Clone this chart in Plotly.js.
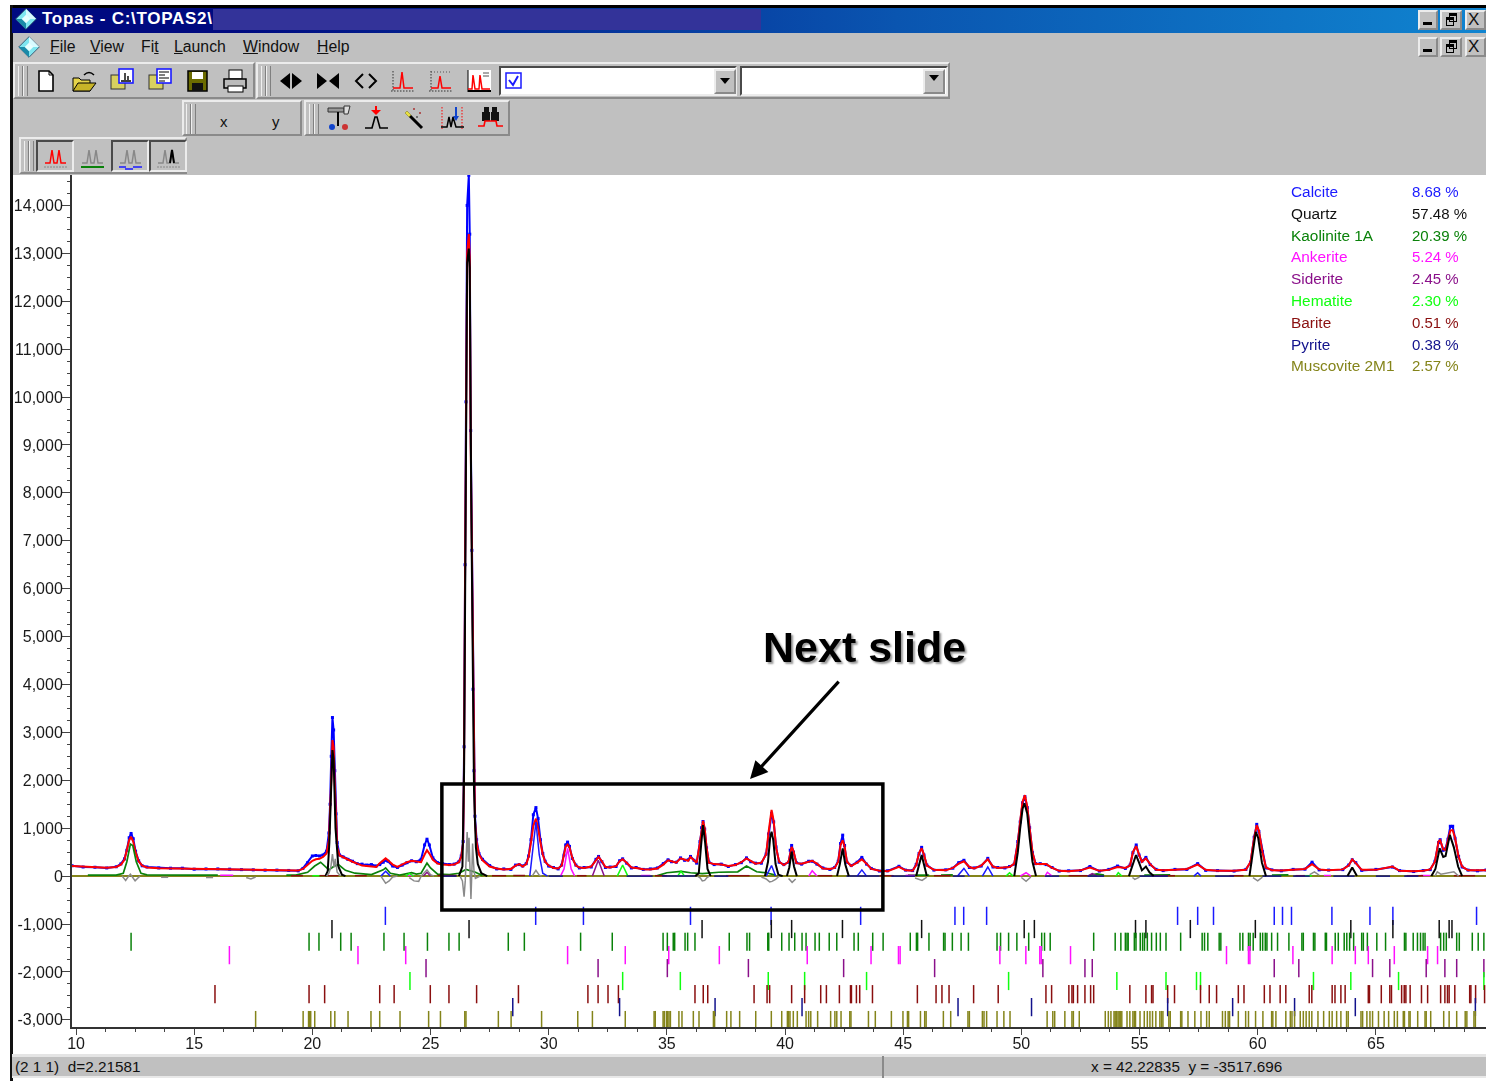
<!DOCTYPE html>
<html><head><meta charset="utf-8"><title>Topas</title>
<script src="https://cdn.plot.ly/plotly-3.0.1.min.js"></script>
<style>
html,body{margin:0;padding:0;background:#fff;width:1486px;height:1081px;overflow:hidden;font-family:"Liberation Sans",Arial,sans-serif}
#wrap{position:absolute;left:0;top:0;width:1486px;height:1081px;overflow:hidden;filter:blur(0.4px)}
#chrome{position:absolute;left:0;top:0;width:1486px;height:1081px}
#chrome div,#chrome span,#chrome svg{position:absolute}
#plot{position:absolute;left:0;top:0;width:1486px;height:1081px}
.t{white-space:pre;color:#111;font-size:16px;line-height:18px}
.t u{text-decoration:underline}
</style></head><body>
<div id="wrap"><div id="chrome"></div><div id="plot"></div></div>
<script>
// ---------- profile (2-theta, counts) ----------
const twoTheta = [9.83,10.3,10.8,11.3,11.7,11.9,12.05,12.15,12.25,12.33,12.42,12.52,12.65,12.8,13,13.5,14,14.5,15,15.5,16,16.5,17,17.5,18,18.5,19,19.4,19.6,19.8,20,20.15,20.3,20.45,20.6,20.7,20.75,20.8,20.85,20.9,20.95,21,21.05,21.15,21.3,21.5,21.7,21.9,22.1,22.3,22.5,22.7,22.85,23,23.1,23.2,23.4,23.6,23.8,24,24.2,24.4,24.6,24.75,24.85,24.95,25.1,25.3,25.5,25.8,26,26.2,26.3,26.38,26.42,26.46,26.5,26.55,26.62,26.66,26.7,26.75,26.8,26.84,26.88,26.95,27.05,27.2,27.5,27.8,28.1,28.4,28.6,28.75,28.9,29.05,29.15,29.25,29.35,29.46,29.55,29.65,29.75,29.85,30,30.2,30.4,30.55,30.65,30.72,30.8,30.88,31,31.15,31.3,31.5,31.8,32,32.11,32.25,32.4,32.6,32.85,33,33.13,33.3,33.5,33.7,34,34.3,34.6,34.85,35.05,35.2,35.4,35.58,35.75,35.9,36,36.15,36.26,36.4,36.47,36.53,36.6,36.68,36.78,37,37.3,37.6,37.9,38.15,38.37,38.55,38.75,39,39.2,39.3,39.43,39.52,39.62,39.75,39.95,40.15,40.22,40.28,40.36,40.48,40.7,41,41.15,41.35,41.6,41.9,42.1,42.25,42.35,42.44,42.52,42.62,42.8,43.05,43.25,43.45,43.65,44,44.34,44.82,45.1,45.4,45.55,45.67,45.78,45.88,46,46.3,46.8,47.1,47.35,47.57,47.8,48,48.3,48.58,48.8,49,49.3,49.5,49.7,49.85,49.95,50.05,50.15,50.25,50.35,50.47,50.6,50.8,51.05,51.3,51.6,52,52.5,52.9,53.3,53.7,54.07,54.4,54.6,54.72,54.86,54.98,55.1,55.27,55.45,55.7,56,56.5,57,57.46,57.8,58.3,59,59.5,59.7,59.85,59.96,60.05,60.2,60.35,60.6,61,61.5,62,62.3,62.6,63,63.6,63.85,64,64.15,64.4,65,65.7,66,66.6,67,67.3,67.5,67.65,67.72,67.85,67.95,68.05,68.15,68.25,68.35,68.5,68.65,68.9,69.3,69.66];
const calculated = [210,195,180,175,190,240,340,520,750,820,720,500,310,220,180,165,160,155,145,140,135,130,125,120,120,115,112,115,150,240,320,350,360,400,470,750,1300,2000,2840,2700,1900,1100,600,430,390,340,300,260,220,210,200,190,270,340,370,330,240,190,240,290,320,300,290,450,540,470,340,260,240,230,240,290,400,700,2420,6180,9520,13000,13400,12900,9000,6600,3700,2100,1150,700,450,330,200,160,140,150,220,250,200,250,400,700,1050,1200,1000,700,450,300,220,170,160,220,420,620,660,600,380,220,180,170,200,330,400,310,190,180,210,310,350,280,180,170,145,140,160,240,330,310,280,370,340,320,400,340,280,700,1000,1155,1000,600,280,250,240,210,230,290,370,310,260,280,450,900,1380,1150,600,300,230,300,520,610,520,270,260,300,320,260,160,150,170,300,650,750,620,300,210,280,350,260,150,110,100,195,120,110,230,480,580,450,220,130,120,170,260,310,190,160,220,350,200,170,180,190,260,700,1150,1550,1690,1450,1000,500,250,250,250,170,110,100,120,180,110,130,190,170,220,500,625,450,300,370,250,130,120,130,150,240,130,110,110,130,300,800,1065,950,500,180,120,115,130,150,250,140,120,140,220,350,270,130,130,200,110,100,110,140,300,720,750,560,550,780,950,960,800,400,200,120,115,120];
const observed = [215,190,185,170,195,255,360,540,800,890,780,520,320,215,190,170,165,165,145,150,150,145,135,130,125,125,118,110,160,280,420,430,420,440,520,900,1500,2500,3310,3050,2200,1300,700,440,400,350,310,260,250,230,240,210,240,290,330,310,210,180,230,280,320,300,350,650,770,650,380,280,260,240,250,300,420,720,2700,6500,9900,14000,14630,13400,9300,6800,3900,2200,1250,760,470,350,220,150,150,140,230,240,210,260,420,760,1280,1430,1200,760,470,310,210,180,150,230,440,650,710,620,370,230,170,180,190,350,410,300,180,190,200,320,360,270,170,180,140,150,170,260,340,300,290,380,330,340,410,330,270,720,1010,1140,980,590,290,240,250,200,240,280,380,300,270,270,460,880,1310,1130,610,290,240,290,540,640,500,280,250,310,310,250,170,140,180,310,680,855,640,290,220,290,390,250,160,105,110,205,125,115,240,470,600,440,230,125,130,165,280,330,180,170,210,370,190,180,170,200,250,720,1130,1530,1660,1430,1010,490,260,260,240,180,105,110,115,200,105,140,210,160,230,490,650,440,310,390,240,140,115,140,140,260,120,115,105,140,290,810,1080,930,510,170,130,110,140,145,290,130,125,135,230,340,280,120,140,190,115,95,115,135,310,700,760,540,570,770,1040,1040,790,410,190,125,110,125];

// ---------- phase curves (null = no visible contribution, pen lifted) ----------
const quartzX = [20.55,20.65,20.72,20.8,20.85,20.9,20.98,21.1,21.25,21.4,null,
  26.2,26.35,26.42,26.46,26.5,26.55,26.62,26.66,26.72,26.78,26.84,26.92,27,27.15,27.4,null,
  36.2,36.35,36.45,36.53,36.62,36.72,36.85,null,
  39.15,39.28,39.37,39.43,39.5,39.6,39.72,39.9,null,
  40.08,40.18,40.28,40.38,40.5,null,
  42.2,42.32,42.44,42.55,42.7,null,
  45.55,45.68,45.78,45.9,46,null,
  49.7,49.85,49.95,50.05,50.13,50.25,50.35,50.47,50.62,null,
  54.55,54.72,54.85,54.98,55.1,55.27,55.42,55.6,null,
  59.65,59.8,59.92,60.02,60.18,60.35,null,
  63.8,64,64.2,null,
  67.35,67.52,67.7,67.85,67.95,68.13,68.3,68.48,68.65];
const quartzY = [0,100,700,1800,2630,2450,1000,200,30,0,null,
  0,200,2200,5800,9300,12800,13100,12700,8000,4500,1800,600,250,60,0,null,
  0,60,650,1065,700,150,0,null,
  0,300,800,925,760,250,30,0,null,
  0,180,510,200,0,null,
  0,250,580,240,0,null,
  0,250,440,200,0,null,
  0,500,1000,1400,1520,1300,800,300,0,null,
  0,250,440,280,120,200,80,0,null,
  0,550,925,800,280,0,null,
  0,180,0,null,
  0,150,580,400,420,860,600,200,0];
const kaoliniteX = [10.5,11.7,12,12.15,12.3,12.4,12.55,12.75,13,13.5,14,15,16,null,
  18.9,19.3,19.8,20.1,20.35,20.5,20.7,20.9,21.1,21.4,21.8,22.5,23,23.1,23.3,23.7,24.2,24.4,24.6,24.85,25,25.3,25.8,26.2,26.5,26.9,27.2,null,
  34.6,35,35.6,36,36.5,37.2,38,38.37,38.8,39.2,39.6,null,
  45.2,45.8,46.1,null,46.6,47.1,null,52.9,53.2,53.5,null,55.2,56.3,null,60.6,61.3];
const kaoliniteY = [20,20,60,300,670,640,300,60,25,20,20,20,20,null,
  20,20,80,210,290,220,130,200,240,120,60,30,130,170,60,20,70,40,60,270,170,40,30,60,140,80,10,null,
  10,70,100,70,50,80,90,210,90,70,20,null,
  20,25,20,null,20,25,null,20,45,20,null,20,25,null,20,25];
const calciteX = [22.9,23.1,23.3,null,29.2,29.3,29.46,29.6,29.75,29.95,null,39.2,39.43,39.6,null,43.05,43.25,43.45,null,47.3,47.57,47.8,null,48.35,48.58,48.8,null,57.3,57.46,57.6];
const calciteY = [0,100,0,null,0,400,1130,450,60,0,null,0,220,0,null,0,130,0,null,0,160,0,null,0,190,0,null,0,70,0];
const ankeriteX = [16.1,16.65,null,24,24.3,null,30.5,30.65,30.8,30.95,31.1,null,33.9,34.3,null,41,41.15,41.35,null,45.1,45.5,null,49.95,50.2,50.4,null,51,51.1,51.3,null,62.8,63.1,null,66.9,67.3];
const ankeriteY = [18,18,null,15,15,null,0,150,580,150,0,null,12,12,null,0,110,0,null,15,15,null,0,70,0,null,0,80,0,null,12,12,null,12,12];
const sideriteX = [24.7,24.85,25,null,31.85,32.1,32.35,null,52.8,53,53.2];
const sideriteY = [0,80,0,null,0,330,0,null,0,50,0];
const hematiteX = [20.0,20.5,null,23.95,24.1,24.3,null,32.9,33.13,33.35,null,35.45,35.6,35.75,null,49.35,49.5,49.65,null,54,54.1,54.25,null,61.9,62.3];
const hematiteY = [8,8,null,0,50,0,null,0,230,0,null,0,100,0,null,0,70,0,null,0,70,0,null,8,8];
const bariteX = [19.1,19.6,null,20.3,21.1,null,21.8,22.3,null,25.3,26.1,null,27.6,28.2,null,28.5,29,null,31.2,31.6,null,34.5,35,null,37.5,38.5,null,41.4,42,null,44,44.6,null,46.3,47,null,52,52.8,null,55.5,56.5,null,58.8,59.4,null,61.6,62,null,66.3,67,null,68.3,69.2];
const bariteY = [8,8,null,8,8,null,8,8,null,12,12,null,8,8,null,12,12,null,8,8,null,8,8,null,8,8,null,8,8,null,8,8,null,8,8,null,8,8,null,8,8,null,8,8,null,8,8,null,8,8,null,8,8];
const pyriteX = [25.5,26.1,null,30,30.6,null,33.3,34.4,null,34.8,36.2,null,37,37.6,null,42.6,44,null,44.5,45.5,null,47.1,47.6,null,51,51.6,null,52.8,53.5,null,55,56.2,null,58.2,59,null,60.2,61,null,61.5,62.2,null,63.2,64.1,null,65,65.6,null,66.2,66.8];
const pyriteY = [0,0,null,0,0,null,0,0,null,0,0,null,0,0,null,0,0,null,0,0,null,0,0,null,0,0,null,0,0,null,0,0,null,0,0,null,0,0,null,0,0,null,0,0,null,0,0,null,0,0];
const muscoviteX = [9.83,69.66];
const muscoviteY = [0,0];
const differenceX = [11.95,12.1,12.2,12.3,12.4,12.5,12.6,12.7,null,
  13.6,13.9,null,15.5,15.8,null,17.2,17.4,17.6,null,
  20.6,20.7,20.78,20.85,20.92,20.97,21.05,21.2,null,
  22.9,23,23.1,23.25,23.4,23.6,null,
  24.1,24.3,24.5,24.6,24.85,25,25.15,null,
  26.25,26.35,26.42,26.47,26.55,26.6,26.63,26.67,26.71,26.75,26.78,26.84,26.9,27.1,null,
  29.3,29.46,29.6,29.7,null,
  36.3,36.42,36.5,36.6,36.7,36.8,null,
  39,39.2,39.35,39.45,39.6,39.75,null,
  40.15,40.3,40.45,null,
  45.5,45.8,46,null,
  50,50.2,50.4,null,
  54.7,54.8,55,null,
  59.8,60,60.2,null,
  62.2,62.4,62.6,null,
  67.5,67.6,67.75,68.1,68.3,68.5];
const differenceY = [0,-90,-20,40,-30,-100,-50,0,null,
  -25,-25,null,-30,-30,null,-30,-60,-20,null,
  0,60,180,460,180,360,80,0,null,
  0,-80,-150,-100,-20,0,null,
  -30,-100,-110,0,130,30,0,null,
  0,-100,-430,-100,920,300,800,-100,-480,100,680,100,-50,0,null,
  0,120,20,0,null,
  0,-40,-100,-90,-30,0,null,
  -20,-60,-120,-110,-70,0,null,
  -50,-130,-60,null,
  -40,-90,-20,null,
  -30,-110,-20,null,
  -30,-70,-20,null,
  -30,-100,-20,null,
  30,90,20,null,
  0,90,40,70,90,0];

// ---------- reflection tick rows (2-theta) ----------
const calciteTicks = [23.09,29.45,31.47,36,39.41,43.2,47.19,47.56,48.53,56.61,57.46,58.13,60.7,61.05,61.43,63.14,64.75,65.72,69.26];
const quartzTicks = [20.83,26.63,36.49,39.42,40.28,42.43,45.78,50.12,50.55,54.83,55.27,57.15,59.9,63.94,65.72,67.68,68.1,68.22];
const kaoliniteTicks = [12.33,19.86,20.28,21.2,21.64,23.03,23.88,24.87,25.78,26.21,28.29,28.97,31.35,32.69,34.84,35.02,35.27,35.33,35.77,35.88,36.19,37.64,38.39,38.5,39.27,39.31,39.86,40.17,40.41,40.72,40.89,41.27,41.45,41.87,42.19,42.92,43.1,43.71,44.15,45.3,45.56,45.61,46.09,46.71,46.77,47.08,47.45,47.76,48.97,49.12,49.46,49.81,50.31,50.86,50.98,51.22,53.06,53.97,54.21,54.4,54.47,54.52,54.78,54.85,55.03,55.13,55.21,55.33,55.51,55.71,55.88,56.12,56.74,57.65,57.75,57.89,58.37,58.44,59.25,59.37,59.61,59.68,59.81,60.11,60.21,60.32,60.39,60.59,60.84,61.32,61.87,61.93,62.36,62.42,62.86,62.91,63.28,63.41,63.66,63.77,63.89,64.06,64.4,64.47,64.64,65.04,65.41,66.21,66.27,66.58,66.76,66.89,67,67.08,67.74,67.87,67.98,68.42,68.53,69.08,69.33,69.57];
const ankeriteTicks = [16.49,21.93,23.95,30.8,33.24,35.08,37.22,40.94,43.64,44.8,44.87,49.09,50.19,50.78,50.84,52.08,58.68,59.61,59.67,61.49,63.15,64.13,64.68,65.78,67.19,67.61];
const sideriteTicks = [24.81,32.09,35.02,38.45,42.48,46.33,50.91,52.69,53,60.7,61.74,64.86,65.59,67.13,67.92,68.42,69.57];
const hematiteTicks = [24.13,33.13,35.57,39.29,40.83,43.45,49.46,54.04,56.12,57.41,57.58,62.36,63.94,65.96,69.57];
const bariteTicks = [15.88,19.86,20.52,22.85,23.46,24.99,25.78,26.95,28.72,31.66,32.09,32.51,32.95,36.19,36.54,36.73,38.69,39.24,39.35,40.28,40.83,41.51,41.75,42.3,42.77,42.81,43.02,43.16,43.7,45.6,46.39,46.64,46.94,47.98,49.02,51.04,51.28,52.01,52.14,52.2,52.38,52.69,52.93,53.06,54.59,55.27,55.51,55.57,56.19,56.48,57.58,57.95,58.26,59.18,59.42,60.28,60.52,60.95,61.19,62.18,62.29,63.15,63.27,63.52,63.7,64.68,64.73,65.23,65.59,65.66,66.09,66.2,66.27,66.45,66.93,67.19,67.74,67.92,68.03,68.1,68.34,68.97,69.02,69.22,69.6];
const pyriteTicks = [28.48,33,37.04,40.72,47.32,50.43,56.19,58.94,61.56,64.13,69.21];
const muscoviteTicks = [17.6,19.61,19.84,19.89,19.93,20.1,20.78,20.95,21.51,22.48,22.85,23.71,24.92,25.42,26.45,26.5,27.87,28.41,29.7,31.23,31.85,33.24,34.46,34.51,34.84,34.89,34.98,35.03,35.09,35.15,35.51,35.64,36.12,36.36,36.97,37.02,37.53,37.71,38.08,38.76,39.42,39.86,40.1,40.15,40.21,40.35,40.52,40.89,41,41.09,41.38,41.93,42.11,42.19,42.37,42.74,42.79,43.53,43.82,44.5,44.99,45.18,45.23,45.73,45.91,45.97,46.7,47.01,47.74,47.8,48.35,48.42,48.53,48.97,49.26,49.52,51.09,51.33,51.41,51.84,52.14,52.2,52.45,53.55,53.68,53.79,53.92,53.97,54.03,54.09,54.14,54.2,54.25,54.47,54.59,54.72,54.78,54.83,55.02,55.2,55.33,55.44,55.55,55.69,55.86,55.93,55.99,56.24,56.3,56.74,56.79,57.05,57.34,57.6,57.84,57.95,58.51,58.63,58.75,58.81,59.18,59.49,59.61,59.91,60.22,60.59,60.64,60.77,61.19,61.38,61.45,61.56,61.8,61.93,62.05,62.18,62.29,62.55,62.79,63.03,63.15,63.34,63.52,63.76,63.83,64.37,64.44,64.62,64.75,64.86,65.11,65.35,65.54,65.78,65.91,66.16,66.21,66.4,66.45,66.77,67.08,67.13,67.32,67.87,68.1,68.42,68.78,68.85,69.15,69.21];

// ---------- legend ----------
const phaseNames = ["Calcite","Quartz","Kaolinite 1A","Ankerite","Siderite","Hematite","Barite","Pyrite","Muscovite 2M1"];
const phasePercents = ["8.68 %","57.48 %","20.39 %","5.24 %","2.45 %","2.30 %","0.51 %","0.38 %","2.57 %"];
const phaseColors = ["#1a1aff","#111111","#0a820a","#ff10ff","#8a108a","#10ff10","#8a0f0f","#12128c","#84841a"];
const tickRowLevels = [-830,-1105,-1370,-1650,-1920,-2190,-2465,-2735,-3005];
const tickRows = [calciteTicks,quartzTicks,kaoliniteTicks,ankeriteTicks,sideriteTicks,hematiteTicks,bariteTicks,pyriteTicks,muscoviteTicks];
const phaseCurves = [[calciteX,calciteY],[quartzX,quartzY],[kaoliniteX,kaoliniteY],[ankeriteX,ankeriteY],[sideriteX,sideriteY],[hematiteX,hematiteY],[bariteX,bariteY],[pyriteX,pyriteY],[muscoviteX,muscoviteY]];

// y axis tick labels
const yTickVals = [-3000,-2000,-1000,0,1000,2000,3000,4000,5000,6000,7000,8000,9000,10000,11000,12000,13000,14000];
const yTickText = ["-3,000","-2,000","-1,000","0","1,000","2,000","3,000","4,000","5,000","6,000","7,000","8,000","9,000","10,000","11,000","12,000","13,000","14,000"];

// ---------- traces ----------
const line = (x,y,color,width)=>({x,y,type:'scatter',mode:'lines',line:{color,width},hoverinfo:'skip',showlegend:false,connectgaps:false});
const traces = [];
traces.push({x:twoTheta,y:observed,type:'scatter',mode:'lines+markers',line:{color:'#0000ff',width:2},marker:{symbol:'square',size:3,color:'#0000ff'},hoverinfo:'skip',showlegend:false});
traces.push(line(twoTheta,calculated,'#ff0000',2));
traces.push(line(phaseCurves[8][0],phaseCurves[8][1],phaseColors[8],2));
[2,0,3,4,5,6,7].forEach(i=>traces.push(line(phaseCurves[i][0],phaseCurves[i][1],phaseColors[i],i===2?1.7:1.5)));
traces.push(line(phaseCurves[1][0],phaseCurves[1][1],'#000000',2));
traces.push(line(differenceX,differenceY,'#8a8a8a',1.5));
tickRows.forEach((r,i)=>traces.push({x:r,y:r.map(()=>tickRowLevels[i]),type:'scatter',mode:'markers',hoverinfo:'skip',showlegend:false,
  marker:{symbol:'line-ns',size:13,color:phaseColors[i],line:{color:phaseColors[i],width:1.5}}}));

// ---------- layout ----------
const W=1486,H=1081,ML=72,MT=175,MB=54;
const annotations=[];
phaseNames.forEach((n,i)=>{
  const yy=(H-MB-(191.5+i*21.8))/(H-MT-MB);
  annotations.push({xref:'paper',yref:'paper',x:(1289-ML)/(W-ML),y:yy,text:n,showarrow:false,xanchor:'left',yanchor:'middle',font:{family:'Liberation Sans',size:15.4,color:phaseColors[i]}});
  annotations.push({xref:'paper',yref:'paper',x:(1410-ML)/(W-ML),y:yy,text:phasePercents[i],showarrow:false,xanchor:'left',yanchor:'middle',font:{family:'Liberation Sans',size:15,color:phaseColors[i]}});
});
annotations.push({xref:'x',yref:'y',x:43.38,y:4780,text:'<b>Next slide</b>',showarrow:false,xanchor:'center',yanchor:'middle',
  font:{family:'Liberation Sans',size:43,color:'#000',shadow:'2px 2px 2px #9a9a9a'}});
annotations.push({xref:'x',yref:'y',x:38.52,y:2025,ax:90,ay:-99,axref:'pixel',ayref:'pixel',text:'',showarrow:true,arrowhead:2,arrowsize:1.1,arrowwidth:3.2,arrowcolor:'#000'});

const layout={
  width:W,height:H,margin:{l:ML,r:0,t:MT,b:MB,pad:0},
  paper_bgcolor:'rgba(0,0,0,0)',plot_bgcolor:'rgba(0,0,0,0)',
  font:{family:'Liberation Sans',size:16,color:'#1a1a1a'},showlegend:false,
  xaxis:{range:[9.83,69.66],tickvals:[10,15,20,25,30,35,40,45,50,55,60,65],ticktext:['10','15','20','25','30','35','40','45','50','55','60','65'],
    ticks:'outside',ticklen:6,tickcolor:'#444',tickwidth:1,showgrid:false,zeroline:false,showline:true,linecolor:'#333',linewidth:2,ticklabelstandoff:-5,
    minor:{dtick:1.25,tick0:10,ticks:'outside',ticklen:3,tickcolor:'#444',tickwidth:1,showgrid:false}},
  yaxis:{range:[-3150,14635],tickvals:yTickVals,ticktext:yTickText,
    ticks:'outside',ticklen:8,tickcolor:'#444',tickwidth:1,showgrid:false,zeroline:false,showline:true,linecolor:'#333',linewidth:2,ticklabelstandoff:-4,
    minor:{dtick:250,tick0:0,ticks:'outside',ticklen:3,tickcolor:'#444',tickwidth:1,showgrid:false}},
  shapes:[{type:'rect',xref:'x',yref:'y',x0:25.48,x1:44.14,y0:-710,y1:1921,line:{color:'#000',width:3.5},fillcolor:'rgba(0,0,0,0)'}],
  annotations
};
Plotly.newPlot('plot',traces,layout,{displayModeBar:false,staticPlot:true});

// ---------- application window around the chart ----------
const chrome=document.getElementById('chrome');
let h='';
const box=(x,y,w,hh,st)=>{h+=`<div style="left:${x}px;top:${y}px;width:${w}px;height:${hh}px;${st||''}"></div>`};
const txt=(x,y,s,st)=>{h+=`<div class="t" style="left:${x}px;top:${y}px;${st||''}">${s}</div>`};
const icon=(cx,cy,inner,s)=>{s=s||28;h+=`<svg width="${s}" height="${s}" viewBox="0 0 28 28" style="left:${cx-s/2}px;top:${cy-s/2}px">${inner}</svg>`};
const raised='box-sizing:border-box;background:#c0c0c0;border:2px solid;border-color:#ececec #8a8a8a #8a8a8a #ececec;';
const sunken='box-sizing:border-box;border:2px solid;border-color:#4a4a4a #ececec #ececec #4a4a4a;';
const grip=(x,y,hh)=>{box(x,y,3,hh,'background:#c0c0c0;border-left:1px solid #f0f0f0;border-right:1px solid #808080');box(x+5,y,3,hh,'background:#c0c0c0;border-left:1px solid #f0f0f0;border-right:1px solid #808080')};
box(12,33,1474,142,'background:#c0c0c0');
box(10,5,1476,3,'background:#000');
box(10,5,2.5,1076,'background:#111');
box(12,8,1474,25,'background:linear-gradient(90deg,#000a80 0%,#000a80 15%,#0a55b0 60%,#1084d0 100%)');
box(213,9,548,21,'background:#333399');
const diamond='<polygon points="14,2 26,14 14,26 2,14" fill="#7fe6f0" stroke="#2a4a66" stroke-width="1"/><polygon points="14,2 26,14 14,14" fill="#d8fbff"/><polygon points="14,14 14,26 2,14" fill="#1a8aa8"/><polygon points="14,9 19,14 14,19 9,14" fill="#e8ffff"/>';
icon(26,19,diamond,24);icon(29,47,diamond,24);
txt(42,10,'Topas - C:\\TOPAS2\\','color:#fff;font-weight:bold;font-size:17px;letter-spacing:.72px');
[[50,'F','ile'],[90,'V','iew'],[141,'Fi','t'],[174,'L','aunch'],[243,'W','indow'],[317,'H','elp']].forEach(([x,a,b])=>txt(x,38,(a==='Fi'?'Fi<u>t</u>':`<u>${a}</u>${b}`),'font-size:15.8px'));
[[10,30],[37,57]].forEach(([a,b])=>{[[1418,20,'_'],[1440,22,'r'],[1465,21,'X']].forEach(([x,w,c])=>{
  box(x,a,w,b-a,raised);
  if(c==='_')box(x+5,b-8,9,3,'background:#000');
  else if(c==='X')txt(x+3,a+1,'X','font-size:17px');
  else {box(x+6,a+7,8,9,'border:1px solid #000;border-top-width:3px;box-sizing:border-box');box(x+9,a+3,8,9,'border:1px solid #000;border-top-width:3px;box-sizing:border-box')}
})});
box(13,62,242,37,raised);box(256,62,694,37,raised);
box(182,100,120,36,raised);box(304,100,206,36,raised);box(19,137,168,37,raised);
grip(18,66,30);grip(261,66,30);grip(186,104,30);grip(309,104,30);grip(24,141,30);
icon(46,81,'<path d="M7 4H17L21 8V24H7Z" fill="#fff" stroke="#000" stroke-width="1.6"/><path d="M17 4V8H21" fill="none" stroke="#000"/>');
icon(84,81,'<path d="M3 24V11H9L11 13H20V24Z" fill="#e6d44a" stroke="#000"/><path d="M3 24L8 16H26L20 24Z" fill="#c8b428" stroke="#000"/><path d="M14 8Q19 3 24 8" fill="none" stroke="#000" stroke-width="1.5"/>');
icon(122,80,'<rect x="3" y="9" width="14" height="14" fill="#d8d060" stroke="#333"/><rect x="11" y="3" width="14" height="14" fill="#fff" stroke="#1a1aff" stroke-width="1.6"/><path d="M13 15H23M17 14V7M20 14V10" stroke="#000" stroke-width="1.4"/>');
icon(160,80,'<rect x="3" y="9" width="14" height="14" fill="#d8d060" stroke="#333"/><rect x="11" y="3" width="14" height="14" fill="#fff" stroke="#1a1aff" stroke-width="1.6"/><path d="M13 6H23M13 9H19M13 12H23M13 15H19" stroke="#000" stroke-width="1.2"/>');
icon(197,81,'<rect x="5" y="4" width="19" height="20" fill="#6b6b00" stroke="#000" stroke-width="1.5"/><rect x="9" y="5" width="11" height="7" fill="#fff"/><rect x="9" y="16" width="11" height="8" fill="#111"/>');
icon(235,81,'<rect x="8" y="3" width="13" height="9" fill="#fff" stroke="#000"/><path d="M3 12H25V21H3Z" fill="#bbb" stroke="#000" stroke-width="1.5"/><rect x="7" y="19" width="15" height="6" fill="#fff" stroke="#000"/>');
icon(291,81,'<polygon points="13,6 13,22 3,14"/><polygon points="15,6 15,22 25,14"/>');
icon(328,81,'<polygon points="3,6 3,22 13,14"/><polygon points="25,6 25,22 15,14"/>');
icon(366,81,'<polyline points="11,7 4,14 11,21" fill="none" stroke="#000" stroke-width="2"/><polyline points="17,7 24,14 17,21" fill="none" stroke="#000" stroke-width="2"/>');
const ax='<path d="M4 4V25M2 24H26" stroke="#333" stroke-dasharray="1.5 1.5" fill="none"/>';
icon(403,81,ax+'<polyline points="4,21 11,21 13,5 15,21 24,21" fill="none" stroke="#f00" stroke-width="1.5"/>');
icon(441,81,ax+'<path d="M4 5H25" stroke="#555" stroke-dasharray="1 2"/><polyline points="4,21 11,21 13,9 15,21 24,21" fill="none" stroke="#f00" stroke-width="1.5"/>');
icon(479,81,'<rect x="3" y="3" width="23" height="22" fill="#fff"/><path d="M3 25V3" stroke="#000"/><path d="M18 6H24M18 9H24" stroke="#555"/><polyline points="3,22 7,22 8,8 10,22 14,22 15,8 17,22 25,22" fill="none" stroke="#f00" stroke-width="1.5"/><path d="M3 24H26" stroke="#000" stroke-width="2"/>');
box(499,66,238,30,sunken+'background:#fff');box(740,66,208,30,sunken+'background:#fff');
box(714,69,22,25,raised);box(923,69,22,25,raised);
h+=`<svg width="10" height="6" style="left:720px;top:78px"><polygon points="0,0 10,0 5,6"/></svg><svg width="10" height="6" style="left:929px;top:75px"><polygon points="0,0 10,0 5,6"/></svg>`;
icon(518.5,85.5,'<rect x="1" y="1" width="15" height="15" fill="#fff" stroke="#1a1aff" stroke-width="1.5"/><polyline points="4,8 8,13 13,4" fill="none" stroke="#1a1aff" stroke-width="2"/>',28);
txt(220,113,'x','font-size:15px');txt(272,113,'y','font-size:15px');
icon(339,118,'<path d="M3 4H19V8H3Z" fill="#999" stroke="#333"/><path d="M19 2H25L23 10H19Z" fill="#ddd" stroke="#333"/><path d="M13 8V22" stroke="#000" stroke-width="2"/><circle cx="7" cy="23" r="3" fill="#14c"/><circle cx="20" cy="23" r="3" fill="#c33"/>');
icon(376,118,'<path d="M14 2V9" stroke="#f00" stroke-width="2"/><polygon points="9,6 19,6 14,11" fill="#f00"/><polyline points="3,24 10,24 13,13 15,13 18,24 26,24" fill="none" stroke="#000" stroke-width="1.6"/>');
icon(414,118,'<path d="M6 8L22 24" stroke="#000" stroke-width="3"/><path d="M6 8L10 12" stroke="#e8e040" stroke-width="3"/><circle cx="14" cy="5" r="1" fill="#a33"/><circle cx="20" cy="9" r="1" fill="#a33"/><circle cx="17" cy="13" r="1" fill="#555"/>');
icon(452,118,'<path d="M4 3V25M24 3V25" stroke="#f00" stroke-dasharray="1.5 1.5"/><polyline points="3,23 9,23 11,13 13,23 15,13 18,23 26,23" fill="none" stroke="#000" stroke-width="1.5"/><path d="M18 3V15" stroke="#14c" stroke-width="2"/><polygon points="15,12 21,12 18,17" fill="#14c"/>');
icon(490,118,'<rect x="8" y="3" width="5" height="5" fill="#111"/><rect x="16" y="3" width="5" height="5" fill="#111"/><rect x="6" y="8" width="8" height="9" fill="#111"/><rect x="15" y="8" width="8" height="9" fill="#111"/><polyline points="2,22 8,22 9,17 20,17 21,22 27,22" fill="none" stroke="#f00" stroke-width="1.6"/>');
[[55,1],[130,1],[168,1]].forEach(([cx])=>box(cx-19,140,38,32,sunken));
const sp=(p,b)=>`<polyline points="4,20 9,20 11,7 13,20 16,20 18,7 20,20 25,20" fill="none" stroke="${p}" stroke-width="1.5"/>${b}`;
icon(55,157,sp('#f00','<path d="M3 24H26" stroke="#888" stroke-dasharray="2 1"/>'));
icon(92,157,sp('#888','<path d="M3 24H26" stroke="#0a820a" stroke-width="2"/>'));
icon(130,157,sp('#888','<path d="M3 24H10M9 26H17M17 24H26" stroke="#1a1aff" stroke-width="1.6"/>'));
icon(168,157,sp('#888','<polyline points="16,20 18,7 20,20" fill="none" stroke="#000" stroke-width="2"/><path d="M3 24H26" stroke="#888" stroke-dasharray="2 1"/>'));
box(12,1054,1474,3,'background:#e4e4e4');
box(12,1057,1474,19,'background:#c0c0c0');
box(12,1076,1474,2,'background:#e8e8e8');
box(882,1056,2,22,'background:#8a8a8a');
txt(15,1058,'(2 1 1)  d=2.21581','font-size:15.3px');
txt(1091,1058,'x = 42.22835  y = -3517.696','font-size:15.3px');
chrome.innerHTML=h;
</script>
</body></html>
